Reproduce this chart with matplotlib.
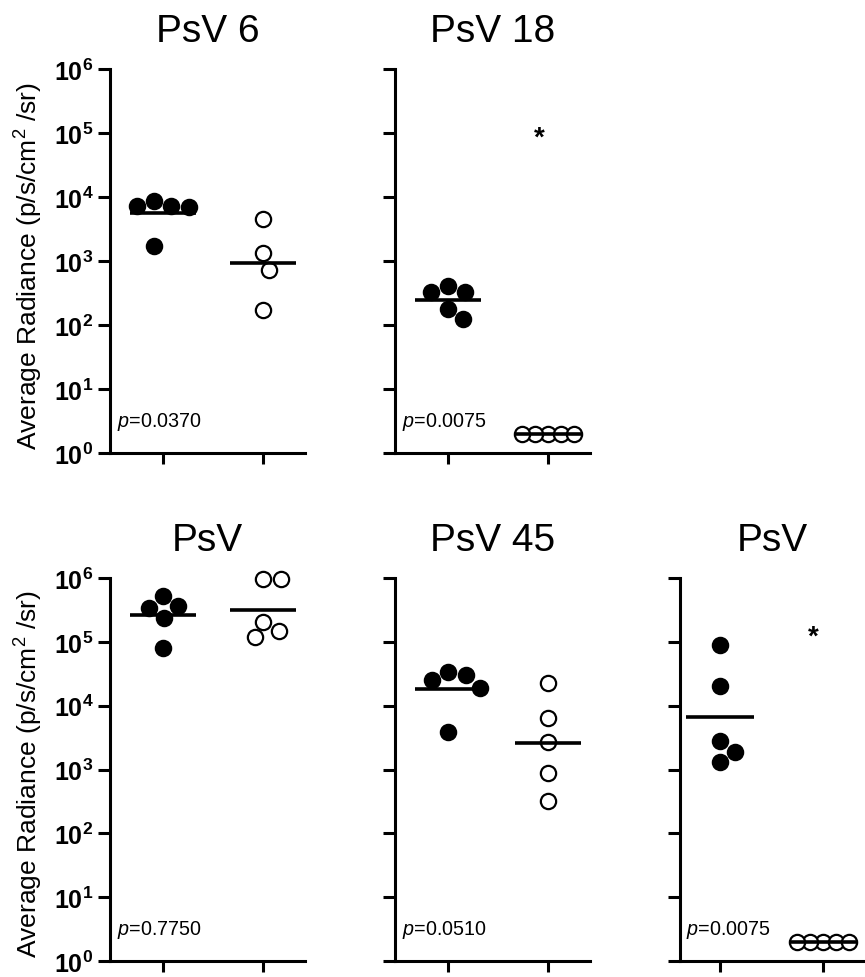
import numpy as np
import matplotlib
matplotlib.use("Agg")
import matplotlib.pyplot as plt
from matplotlib.ticker import FixedLocator, FuncFormatter, NullLocator

plt.rcParams['font.family'] = ['Liberation Sans', 'DejaVu Sans']
plt.rcParams['mathtext.fontset'] = 'custom'
plt.rcParams['mathtext.rm'] = 'Liberation Sans'
plt.rcParams['mathtext.it'] = 'Liberation Sans:italic'
plt.rcParams['mathtext.bf'] = 'Liberation Sans:bold'

# panel data
titles = ['PsV 6', 'PsV 18', 'PsV', 'PsV 45', 'PsV']
pvals = ['0.0370', '0.0075', '0.7750', '0.0510', '0.0075']
filled = [
    [8700, 7300, 6900, 7200, 1740],
    [325, 325, 405, 178, 124],
    [525000, 345000, 240000, 365000, 81000],
    [34000, 25000, 19200, 30000, 3900],
    [89000, 20400, 2800, 1320, 1900],
]
hollow = [
    [4550, 1330, 720, 170],
    [2, 2, 2, 2, 2],
    [970000, 970000, 208000, 117000, 148000],
    [22600, 6500, 2650, 890, 322],
    [2, 2, 2, 2, 2],
]
star = [False, True, False, False, True]
star_y = [None, 0.85e5, None, None, 1.2e5]

W, H = 865, 978
fig = plt.figure(figsize=(W / 100, H / 100), dpi=100)

# layout in pixels
lefts = [110, 395, 680]
widths = [195, 195, 185]
xlims = [(-0.53, 1.42), (-0.53, 1.42), (-0.39, 1.41)]
rows = [(70, 454), (579, 962)]
slots = [(0, 0), (0, 1), (1, 0), (1, 1), (1, 2)]


def swarm(vals, sx, sy, d=18, maxspread=52):
    # greedy beeswarm in pixel space, squeezed to the column width
    ys = np.log10(vals) * sy
    order = np.argsort(-ys, kind='stable')
    xs = np.zeros(len(vals))
    placed = []
    for i in order:
        s = 0.0
        done = False
        while not done:
            for c in ([s] if s == 0 else [s, -s]):
                if all((c - px) ** 2 + (ys[i] - py) ** 2 >= d ** 2 for px, py in placed):
                    xs[i] = c
                    placed.append((c, ys[i]))
                    done = True
                    break
            s += 0.5
    spread = xs.max() - xs.min()
    if spread > maxspread:
        mid = (xs.max() + xs.min()) / 2
        xs = (xs - mid) * maxspread / spread
    return xs / sx


for k, (r, c) in enumerate(slots):
    top, bot = rows[r]
    width = widths[c]
    xlo, xhi = xlims[c]
    ax = fig.add_axes([lefts[c] / W, (H - bot) / H, width / W, (bot - top) / H])
    ax.set_yscale('log')
    ax.set_ylim(1, 1e6)
    ax.set_xlim(xlo, xhi)
    for s in ['top', 'right']:
        ax.spines[s].set_visible(False)
    for s in ['left', 'bottom']:
        ax.spines[s].set_linewidth(2.2)

    sx = width / (xhi - xlo)
    sy = (bot - top) / 6.0

    for g, (vals, face) in enumerate([(filled[k], 'black'), (hollow[k], 'white')]):
        vals = np.array(vals, dtype=float)
        xs = g + swarm(vals, sx, sy)
        ax.plot(xs, vals, 'o', ms=11, mfc=face, mec='black', mew=1.6,
                ls='none', clip_on=False, zorder=3)
        gm = np.exp(np.mean(np.log(vals)))
        ax.plot([g - 0.33, g + 0.33], [gm, gm], color='black', lw=2.6,
                solid_capstyle='butt', zorder=4)

    ax.yaxis.set_major_locator(FixedLocator([10.0 ** e for e in range(7)]))
    ax.yaxis.set_minor_locator(NullLocator())
    if c == 0:
        ax.yaxis.set_major_formatter(FuncFormatter(
            lambda v, pos: r'$\mathbf{10^{%d}}$' % round(np.log10(v))))
        ax.set_ylabel(r'Average Radiance (p/s/cm$^{2}$ /sr)', fontsize=19)
        ax.yaxis.set_label_coords(-0.335, 0.49)
    else:
        ax.set_yticklabels([])
    ax.tick_params(axis='y', which='major', direction='out', length=8.5,
                   width=2.2, pad=3.5, labelsize=18)
    ax.set_xticks([0, 1])
    ax.set_xticklabels([])
    ax.tick_params(axis='x', direction='out', length=8, width=2.2)

    ax.set_title(titles[k], fontsize=28, pad=20)
    ax.text(0.035, 0.07, r'$p$=' + pvals[k], transform=ax.transAxes,
            fontsize=14.2, va='baseline', ha='left')
    if star[k]:
        ax.text(0.91, star_y[k], '*', fontsize=20, fontweight='bold',
                ha='center', va='center')

fig.savefig('out.png', dpi=100)
